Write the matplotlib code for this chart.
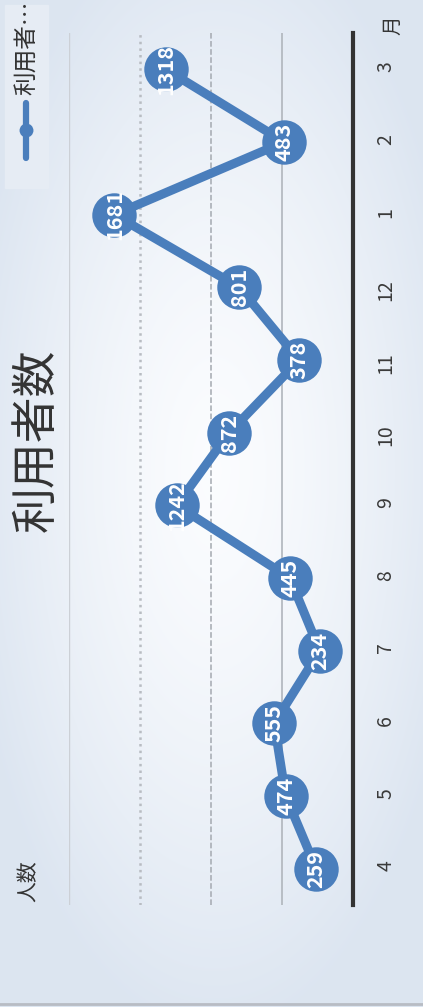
import numpy as np
import matplotlib.pyplot as plt
from matplotlib.lines import Line2D
from matplotlib.patches import Rectangle

plt.rcParams['font.family'] = ['Noto Sans CJK JP', 'DejaVu Sans']

months = ['4', '5', '6', '7', '8', '9', '10', '11', '12', '1', '2', '3']
users = [259, 474, 555, 234, 445, 1242, 872, 378, 801, 1681, 483, 1318]
grid_vals = [500, 1000, 1500, 2000]
title = '利用者数'
series_name = '利用者…'

W, H = 423, 1007
blue = '#4a7ebc'


def fx(x):
    return x / W


def fy(y):
    return 1 - y / H


fig = plt.figure(figsize=(W / 100, H / 100), dpi=100)

# background with soft radial highlight
bg = fig.add_axes([0, 0, 1, 1], zorder=0)
yy, xx = np.mgrid[0:H, 0:W]
d = np.sqrt(((xx - 215) / 250.0) ** 2 + ((yy - 470) / 560.0) ** 2)
t = np.clip(d, 0, 1) ** 1.4
edge = np.array([0.865, 0.900, 0.945])
center = np.array([0.985, 0.990, 0.998])
img = center + (edge - center) * t[..., None]
bg.imshow(img, aspect='auto', extent=[0, W, H, 0])
bg.set_xlim(0, W)
bg.set_ylim(H, 0)
bg.axis('off')

# chart drawn already rotated: values run right-to-left, months bottom-to-top
ax = fig.add_axes([fx(69), fy(905), fx(353) - fx(69), (905 - 33) / H], zorder=1)
ax.patch.set_alpha(0)
pos = np.arange(len(months))

styles = {500: ('-', '#b0b5bc', 1.2), 1000: ('--', '#a4a9b0', 1.1),
          1500: (':', '#b8bcc2', 1.8), 2000: ('-', '#ccd0d6', 1.0)}
for g in grid_vals:
    ls, c, lw = styles[g]
    ax.axvline(g, ls=ls, color=c, lw=lw, zorder=1)

ax.plot(users, pos, color=blue, lw=6.5, marker='o', ms=32, mew=0,
        solid_capstyle='round', zorder=3)
for v, p in zip(users, pos):
    ax.text(v, p, str(v), rotation=90, color='white', fontsize=15.5,
            fontweight='bold', ha='center', va='center', zorder=4)

ax.set_xlim(2000, 0)
ax.set_ylim(-0.5, len(months) - 0.5)
ax.set_xticks([])
ax.set_yticks(pos)
ax.set_yticklabels(months)
ax.yaxis.tick_right()
ax.tick_params(axis='y', length=0, pad=16, labelsize=14, labelrotation=90,
               labelcolor='#3a3a3a')
for side in ['top', 'bottom', 'left']:
    ax.spines[side].set_visible(False)
ax.spines['right'].set_color('#333333')
ax.spines['right'].set_linewidth(3)

# texts
fig.text(fx(36), fy(440), title, rotation=90, fontsize=33, color='#333333',
         ha='center', va='center')
fig.text(fx(28), fy(881), '人数', rotation=90, fontsize=15, color='#333333',
         ha='center', va='center')
fig.text(fx(393), fy(25), '月', rotation=90, fontsize=14, color='#333333',
         ha='center', va='center')

# legend (rotated)
fig.add_artist(Rectangle((fx(5), fy(188)), fx(48) - fx(5), (188 - 5) / H,
                         transform=fig.transFigure, color='#e6ecf4', zorder=2))
fig.add_artist(Line2D([fx(26), fx(26)], [fy(103), fy(158)], color=blue, lw=4.5,
                      solid_capstyle='round', zorder=3))
fig.add_artist(Line2D([fx(26)], [fy(130)], color=blue, marker='o', ms=10,
                      mew=0, zorder=3))
fig.text(fx(28), fy(48), series_name, rotation=90, fontsize=17, color='#333333',
         ha='center', va='center', zorder=4)

fig.add_artist(Line2D([0, 1], [fy(1004), fy(1004)], color='#b8bcc4', lw=2))

fig.savefig('out.png', dpi=100)
